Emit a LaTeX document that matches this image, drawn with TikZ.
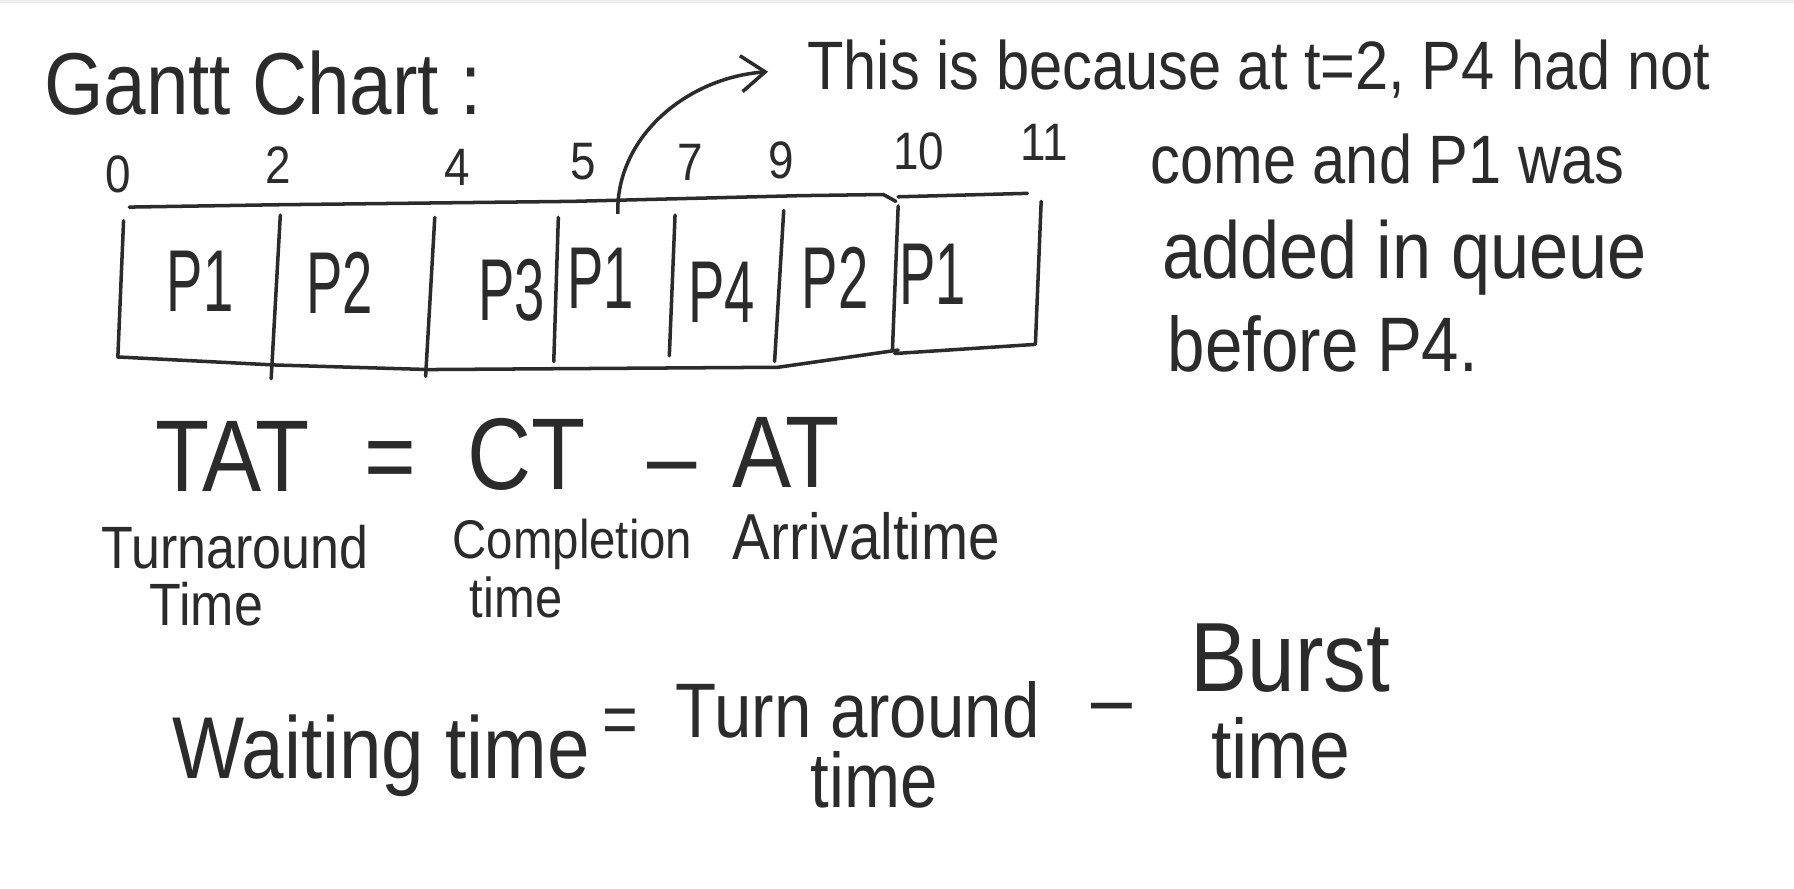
\documentclass[tikz,border=0pt]{standalone}
\usepackage{fontspec}
\usetikzlibrary{arrows.meta}
\newfontfamily\gchandfont[FakeStretch=0.87]{Liberation Sans}
\newfontfamily\gccelfont[FakeStretch=0.62]{Liberation Sans}
\definecolor{gctinta}{HTML}{2B2B2B}
\definecolor{gcfaixa}{HTML}{EDEDED}
\tikzset{
  gctexto/.style={font=\gchandfont, text=gctinta, inner sep=0pt, anchor=base west},
  gcnum/.style={font=\gchandfont\fontsize{15}{15}\selectfont, text=gctinta, inner sep=0pt, anchor=base},
  gccel/.style={font=\gccelfont\fontsize{25}{25}\selectfont, text=gctinta, inner sep=0pt, anchor=base},
  gclinha/.style={draw=gctinta, line width=1pt, line cap=round, line join=round},
  gcseta/.style={-{Straight Barb[length=2.4mm, width=3.6mm]}, draw=gctinta, line width=1pt},
}
\newcommand{\gcsz}[1]{\fontsize{#1}{#1}\selectfont}

\begin{document}
\begin{tikzpicture}[x=0.011441cm, y=-0.011441cm]
    \useasboundingbox (0,0) rectangle (1568,777);
    \fill[gcfaixa] (0,0) rectangle (1568,3);
    % titulo e eixo de tempo
    \node[gctexto, font=\gchandfont\gcsz{25}] (titulo) at (38,100) {Gantt Chart :};
    \node[gcnum] (t0) at (103,168) {0};
    \node[gcnum] (t2) at (243,160) {2};
    \node[gcnum] (t4) at (400,162) {4};
    \node[gcnum] (t5) at (510,157) {5};
    \node[gcnum] (t7) at (603,158) {7};
    \node[gcnum] (t9) at (683,156) {9};
    \node[gcnum] (t10) at (803,148) {10};
    \node[gcnum] (t11) at (913,140) {11};
    % caixa do Gantt
    \draw[gclinha] (113,181) -- (240,179) -- (500,176) -- (700,171) -- (772,170) -- (783,176);
    \draw[gclinha] (785,172) -- (898,169);
    \draw[gclinha] (103,312) -- (240,319) -- (375,323) -- (680,321) -- (785,306);
    \draw[gclinha] (782,309) -- (905,301);
    \draw[gclinha] (108,193) -- (103,312);
    \draw[gclinha] (245,188) -- (237,331);
    \draw[gclinha] (380,190) -- (372,329);
    \draw[gclinha] (488,190) -- (484,316);
    \draw[gclinha] (590,188) -- (585,311);
    \draw[gclinha] (685,184) -- (677,316);
    \draw[gclinha] (785,180) -- (780,306);
    \draw[gclinha] (910,176) -- (905,300);
    \node[gccel] (c1) at (175,272) {P1};
    \node[gccel] (c2) at (297,274) {P2};
    \node[gccel] (c3) at (447,280) {P3};
    \node[gccel] (c4) at (525,270) {P1};
    \node[gccel] (c5) at (631,282) {P4};
    \node[gccel] (c6) at (730,270) {P2};
    \node[gccel] (c7) at (815,266) {P1};
    % observacao
    \node[gctexto, font=\gchandfont\gcsz{19.5}] (nota1) at (705,78) {This is because at t=2, P4 had not};
    \node[gctexto, font=\gchandfont\gcsz{19.5}] (nota2) at (1005,160) {come and P1 was};
    \node[gctexto, font=\gchandfont\gcsz{23}] (nota3) at (1015,243) {added in queue};
    \node[gctexto, font=\gchandfont\gcsz{22}] (nota4) at (1020,325) {before P4.};
    \coordinate (origem) at (540,187);
    \draw[gcseta, shorten >=11pt] (origem) .. controls (538,120) and (600,68) .. (nota1.west);
    % TAT
    \node[gctexto, text depth=0pt, font=\gchandfont\gcsz{29}] (tat) at (135,430) {TAT};
    \node[gctexto, text depth=0pt, font=\gchandfont\gcsz{29}] (igual1) at (318,430) {=};
    \node[gctexto, text depth=0pt, font=\gchandfont\gcsz{29}] (ct) at (408,428) {CT};
    \node[gctexto, text depth=0pt, font=\gchandfont\gcsz{29}] (menos1) at (565,430) {\textendash};
    \node[gctexto, text depth=0pt, font=\gchandfont\gcsz{29}] (at) at (640,426) {AT};
    \node[gctexto, font=\gchandfont\gcsz{17}] (tatrot) at (88,497) {Turnaround};
    \node[gctexto, font=\gchandfont\gcsz{17}] (tatrot2) at (130,547) {Time};
    \node[gctexto, font=\gchandfont\gcsz{15.5}] (ctrot) at (395,488) {Completion};
    \node[gctexto, font=\gchandfont\gcsz{16}] (ctrot2) at (410,540) {time};
    \node[gctexto, font=\gchandfont\gcsz{18.5}] (atrot) at (640,489) {Arrivaltime};
    % tempo de espera
    \node[gctexto, font=\gchandfont\gcsz{25}] (wt) at (150,680) {Waiting time};
    \node[gctexto, font=\gchandfont\gcsz{20}] (igual2) at (526,650) {=};
    \node[gctexto, font=\gchandfont\gcsz{22}] (tat2) at (590,645) {Turn around};
    \node[gctexto, font=\gchandfont\gcsz{22}] (tat3) at (708,706) {time};
    \node[gctexto, font=\gchandfont\gcsz{24}] (menos2) at (953,636) {\textendash};
    \node[gctexto, font=\gchandfont\gcsz{28}] (bt) at (1040,604) {Burst};
    \node[gctexto, font=\gchandfont\gcsz{24}] (bt2) at (1058,680) {time};
\end{tikzpicture}
\end{document}
